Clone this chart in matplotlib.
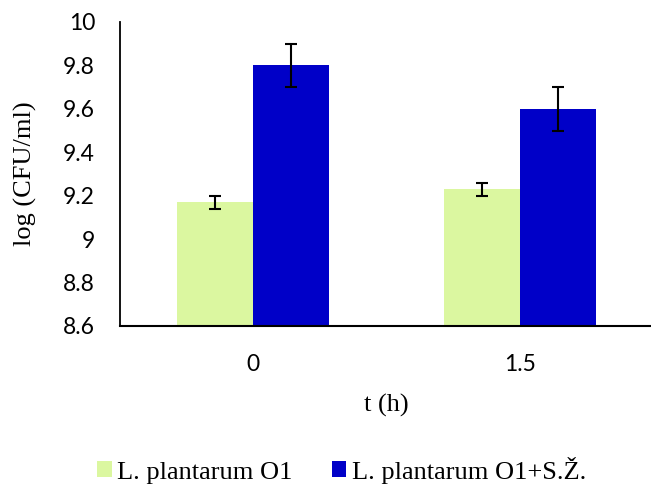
import matplotlib
matplotlib.use("Agg")
import matplotlib.pyplot as plt
import numpy as np

categories = ["0", "1.5"]
series_names = ["L. plantarum O1", "L. plantarum O1+S.Ž."]
values_o1 = [9.17, 9.23]
errors_o1 = [0.03, 0.03]
values_o1sz = [9.80, 9.60]
errors_o1sz = [0.10, 0.10]
yticks = [8.6, 8.8, 9.0, 9.2, 9.4, 9.6, 9.8, 10.0]
ytick_labels = ["8.6", "8.8", "9", "9.2", "9.4", "9.6", "9.8", "10"]

green = "#DBF7A0"
blue = "#0000C8"

fig = plt.figure(figsize=(6.51, 4.88), dpi=100)
ax = fig.add_axes([120/651, 162/488, 533/651, 304/488])

x = np.arange(len(categories))
w = 0.285
ax.bar(x - w/2, values_o1, w, color=green, label=series_names[0], zorder=2)
ax.bar(x + w/2, values_o1sz, w, color=blue, label=series_names[1], zorder=2)
ax.errorbar(x - w/2, values_o1, yerr=errors_o1, fmt="none", ecolor="black",
            elinewidth=1.5, capsize=4.3, capthick=1.5, zorder=3)
ax.errorbar(x + w/2, values_o1sz, yerr=errors_o1sz, fmt="none", ecolor="black",
            elinewidth=1.5, capsize=4.3, capthick=1.5, zorder=3)

ax.set_xlim(-0.5, 1.5)
ax.set_ylim(8.6, 10.0)
ax.set_yticks(yticks)
ax.set_yticklabels(ytick_labels, fontfamily="Lato", fontsize=16.5)
ax.set_xticks(x)
ax.set_xticklabels(categories, fontfamily="Lato", fontsize=16.5)
ax.tick_params(axis="x", length=0, pad=20.5)
ax.tick_params(axis="y", length=0, pad=18)

for s in ["top", "right"]:
    ax.spines[s].set_visible(False)
ax.spines["left"].set_color("black")
ax.spines["left"].set_linewidth(1.3)
ax.spines["bottom"].set_color("black")
ax.spines["bottom"].set_linewidth(1.5)

ax.set_ylabel("log (CFU/ml)", fontfamily="Liberation Serif", fontsize=19, labelpad=18.5)
ax.set_xlabel("t (h)", fontfamily="Liberation Serif", fontsize=19, labelpad=13)

leg = fig.legend(loc="center", bbox_to_anchor=(341.5/651, 1 - 470/488), ncol=2,
                 frameon=False, handlelength=0.55, handleheight=0.55,
                 handletextpad=0.2, columnspacing=1.5,
                 prop={"family": "Liberation Serif", "size": 19})

fig.savefig("out.png", dpi=100)
